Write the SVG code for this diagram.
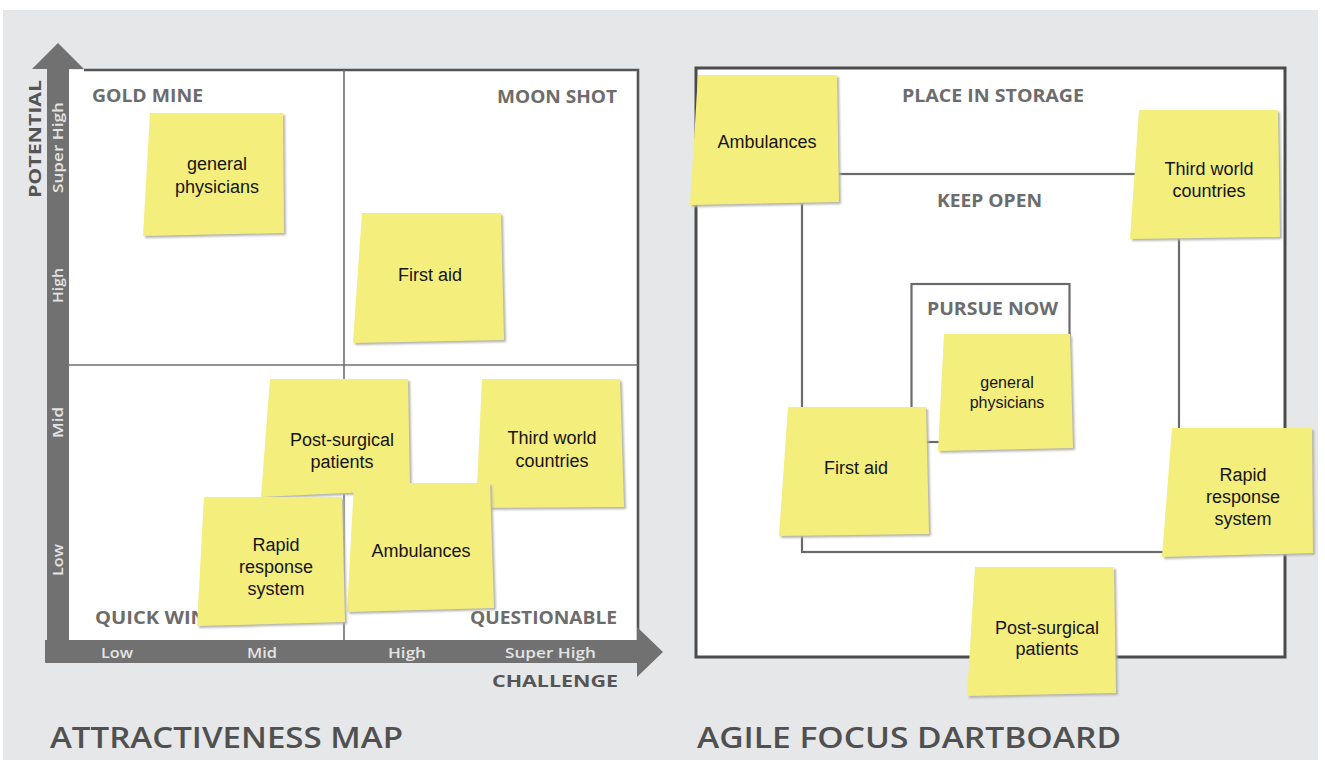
<svg xmlns="http://www.w3.org/2000/svg" width="1325" height="760" viewBox="0 0 1325 760">
  <defs>
    <filter id="soft" x="-5%" y="-5%" width="110%" height="110%">
      <feGaussianBlur stdDeviation="0.9"/>
    </filter>
  </defs>
  <style>
    .lbl { font-family: "Open Sans", "DejaVu Sans", sans-serif; font-weight: 700; fill: #6c6c6c; font-size: 17px; }
    .axis { font-family: "Open Sans", "DejaVu Sans", sans-serif; font-weight: 700; fill: #555555; font-size: 16px; }
    .tick { font-family: "Open Sans", "DejaVu Sans", sans-serif; font-weight: 600; fill: #e4e4e4; font-size: 15px; }
    .title { font-family: "Open Sans", "DejaVu Sans", sans-serif; font-weight: 600; fill: #505050; font-size: 28px; }
    .note { fill: #f4ee7d; }
    .shadow { fill: #b3b3ac; filter: url(#soft); }
    .nt { font-family: "Liberation Sans", Arial, sans-serif; font-size: 18px; fill: #151515; text-anchor: middle; }
    .grid { stroke: #6f6f6f; stroke-width: 1.6; fill: none; }
    .ring { fill: none; stroke: #6a6a6a; stroke-width: 2.2; }
  </style>

  <!-- page -->
  <rect x="0" y="0" width="1325" height="760" fill="#ffffff"/>
  <rect x="3" y="10" width="1315" height="750" fill="#e6e7e8"/>

  <!-- ===== Attractiveness map ===== -->
  <g id="attractiveness-map">
    <rect x="69" y="70" width="569" height="570" fill="#ffffff"/>
    <path d="M84,70 H638 V640" fill="none" stroke="#555555" stroke-width="2.6"/>
    <line class="grid" x1="344" y1="70" x2="344" y2="640"/>
    <line class="grid" x1="69" y1="365" x2="638" y2="365"/>

    <!-- axes arrows -->
    <path d="M47,69 L32,69 L58,43 L84,69 L69,69 L69,640 L637,640 L637,627 L663,652 L637,677 L637,663 L45,663 L45,640 L47,640 Z" fill="#717171"/>

    <text class="axis" transform="translate(41,198) rotate(-90)" textLength="118" lengthAdjust="spacingAndGlyphs">POTENTIAL</text>
    <text class="axis" x="492" y="687" textLength="126" lengthAdjust="spacingAndGlyphs">CHALLENGE</text>

    <!-- potential ticks -->
    <text class="tick" transform="translate(63,193) rotate(-90)" textLength="91" lengthAdjust="spacingAndGlyphs">Super High</text>
    <text class="tick" transform="translate(63,303) rotate(-90)" textLength="35" lengthAdjust="spacingAndGlyphs">High</text>
    <text class="tick" transform="translate(63,438) rotate(-90)" textLength="31" lengthAdjust="spacingAndGlyphs">Mid</text>
    <text class="tick" transform="translate(63,576) rotate(-90)" textLength="32" lengthAdjust="spacingAndGlyphs">Low</text>

    <!-- challenge ticks -->
    <text class="tick" x="101" y="658" textLength="32" lengthAdjust="spacingAndGlyphs">Low</text>
    <text class="tick" x="247" y="658" textLength="30" lengthAdjust="spacingAndGlyphs">Mid</text>
    <text class="tick" x="388" y="658" textLength="38" lengthAdjust="spacingAndGlyphs">High</text>
    <text class="tick" x="505" y="658" textLength="91" lengthAdjust="spacingAndGlyphs">Super High</text>

    <!-- quadrant names -->
    <text class="lbl" x="92" y="102" textLength="111" lengthAdjust="spacingAndGlyphs">GOLD MINE</text>
    <text class="lbl" x="497" y="103" textLength="120" lengthAdjust="spacingAndGlyphs">MOON SHOT</text>
    <text class="lbl" x="95" y="624" textLength="112" lengthAdjust="spacingAndGlyphs">QUICK WIN</text>
    <text class="lbl" x="470" y="624" textLength="147" lengthAdjust="spacingAndGlyphs">QUESTIONABLE</text>
  </g>

  <!-- map notes -->
  <g id="map-general-physicians">
    <polygon class="shadow" points="152,115 285,115 286,235 145,238"/>
    <polygon class="note" points="150,113 283,113 284,233 143,236"/>
    <text class="nt" x="217" y="170">general</text>
    <text class="nt" x="217" y="193">physicians</text>
  </g>
  <g id="map-first-aid">
    <polygon class="shadow" points="364,215 503,215 506,342 355,345"/>
    <polygon class="note" points="362,213 501,213 504,340 353,343"/>
    <text class="nt" x="430" y="281">First aid</text>
  </g>
  <g id="map-post-surgical">
    <polygon class="shadow" points="272,381 410,381 412,492 263,499"/>
    <polygon class="note" points="270,379 408,379 410,490 261,497"/>
    <text class="nt" x="342" y="446">Post-surgical</text>
    <text class="nt" x="342" y="468">patients</text>
  </g>
  <g id="map-third-world">
    <polygon class="shadow" points="484,381 622,381 626,509 478,510"/>
    <polygon class="note" points="482,379 620,379 624,507 476,508"/>
    <text class="nt" x="552" y="444">Third world</text>
    <text class="nt" x="552" y="467">countries</text>
  </g>
  <g id="map-ambulances">
    <polygon class="shadow" points="356,485 492,485 496,610 349,614"/>
    <polygon class="note" points="354,483 490,483 494,608 347,612"/>
    <text class="nt" x="421" y="557">Ambulances</text>
  </g>
  <g id="map-rapid-response">
    <polygon class="shadow" points="206,499 344,499 347,624 199,628"/>
    <polygon class="note" points="204,497 342,497 345,622 197,626"/>
    <text class="nt" x="276" y="551">Rapid</text>
    <text class="nt" x="276" y="573">response</text>
    <text class="nt" x="276" y="595">system</text>
  </g>

  <!-- ===== Agile focus dartboard ===== -->
  <g id="dartboard">
    <rect x="696" y="68" width="589" height="589" fill="#ffffff" stroke="#4b4b4b" stroke-width="3"/>
    <rect class="ring" x="802" y="174" width="377" height="378"/>
    <rect class="ring" x="911.5" y="284" width="158" height="158"/>
    <text class="lbl" x="902" y="102" textLength="182" lengthAdjust="spacingAndGlyphs">PLACE IN STORAGE</text>
    <text class="lbl" x="937" y="207" textLength="105" lengthAdjust="spacingAndGlyphs">KEEP OPEN</text>
    <text class="lbl" x="927" y="315" textLength="131" lengthAdjust="spacingAndGlyphs">PURSUE NOW</text>
  </g>

  <!-- dartboard notes -->
  <g id="board-ambulances">
    <polygon class="shadow" points="700,77 839,77 841,204 692,207"/>
    <polygon class="note" points="698,75 837,75 839,202 690,205"/>
    <text class="nt" x="767" y="148">Ambulances</text>
  </g>
  <g id="board-third-world">
    <polygon class="shadow" points="1141,112 1280,112 1282,239 1132,241"/>
    <polygon class="note" points="1139,110 1278,110 1280,237 1130,239"/>
    <text class="nt" x="1209" y="175">Third world</text>
    <text class="nt" x="1209" y="197">countries</text>
  </g>
  <g id="board-general-physicians">
    <polygon class="shadow" points="946,336 1072,336 1075,450 940,453"/>
    <polygon class="note" points="944,334 1070,334 1073,448 938,451"/>
    <text class="nt" x="1007" y="388" style="font-size:16px">general</text>
    <text class="nt" x="1007" y="408" style="font-size:16px">physicians</text>
  </g>
  <g id="board-first-aid">
    <polygon class="shadow" points="790,409 928,409 931,536 781,538"/>
    <polygon class="note" points="788,407 926,407 929,534 779,536"/>
    <text class="nt" x="856" y="474">First aid</text>
  </g>
  <g id="board-rapid-response">
    <polygon class="shadow" points="1174,430 1314,430 1315,555 1164,559"/>
    <polygon class="note" points="1172,428 1312,428 1313,553 1162,557"/>
    <text class="nt" x="1243" y="481">Rapid</text>
    <text class="nt" x="1243" y="503">response</text>
    <text class="nt" x="1243" y="525">system</text>
  </g>
  <g id="board-post-surgical">
    <polygon class="shadow" points="977,569 1116,569 1118,695 969,698"/>
    <polygon class="note" points="975,567 1114,567 1116,693 967,696"/>
    <text class="nt" x="1047" y="634">Post-surgical</text>
    <text class="nt" x="1047" y="655">patients</text>
  </g>

  <!-- titles -->
  <text class="title" x="50" y="748" textLength="353" lengthAdjust="spacingAndGlyphs">ATTRACTIVENESS MAP</text>
  <text class="title" x="697" y="748" textLength="424" lengthAdjust="spacingAndGlyphs">AGILE FOCUS DARTBOARD</text>
</svg>
